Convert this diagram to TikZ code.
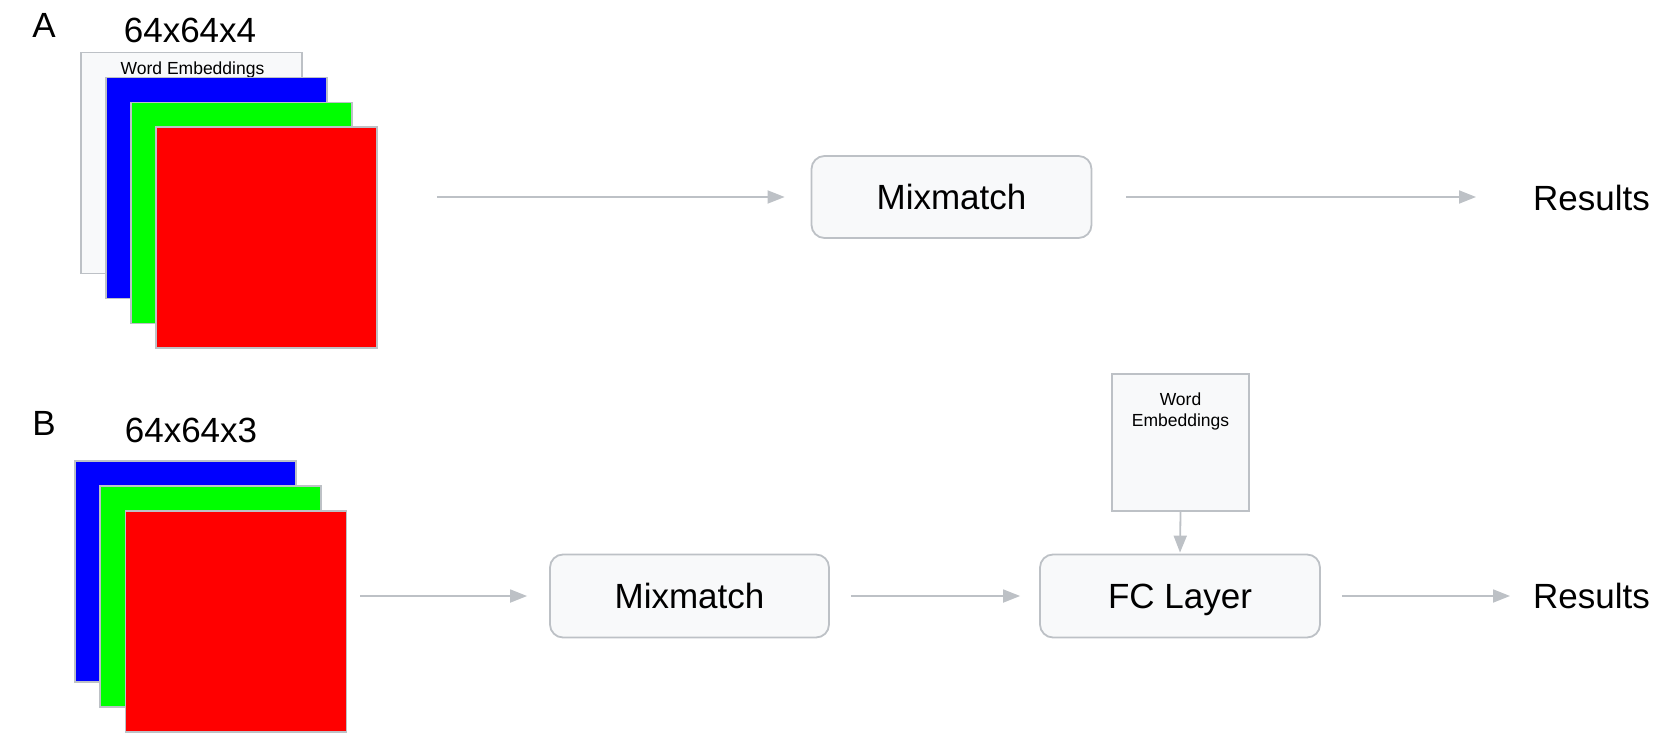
\documentclass[tikz,border=0pt]{standalone}
\usepackage{fontspec}
\setmainfont{Liberation Sans}
\usetikzlibrary{arrows.meta}
\definecolor{linegray}{HTML}{BDC1C6}
\definecolor{boxfill}{HTML}{F8F9FA}
\definecolor{chblue}{HTML}{0000FF}
\definecolor{chgreen}{HTML}{00FF00}
\definecolor{chred}{HTML}{FF0000}
\tikzset{
  big/.style={font=\fontsize{35}{42}\selectfont, inner sep=0pt},
  small/.style={font=\fontsize{17.5}{21}\selectfont, inner sep=0pt, align=center},
  chan/.style={draw=linegray, line width=1.8pt, minimum width=221pt, minimum height=221pt, inner sep=0pt},
  procbox/.style={draw=linegray, fill=boxfill, line width=1.8pt, rounded corners=13pt, inner sep=0pt,
    text depth=0pt, font=\fontsize{35}{42}\selectfont},
  conn/.style={draw=linegray, line width=1.8pt, -{Triangle[length=17pt,width=13pt]}},
}
\begin{document}
\begin{tikzpicture}[x=1pt,y=-1pt]
\useasboundingbox (0,0) rectangle (1667,746);
% ---- row A ----
\node[big] (labA) at (44,25) {A};
\node[big] (dimA) at (190,30) {64x64x4};
\node[chan, fill=boxfill] (weA) at (191.5,163) {};
\node[small] (weAtxt) at (192.5,70) {Word Embeddings};
\node[chan, fill=chblue] (blueA) at (216.5,188) {};
\node[chan, fill=chgreen] (greenA) at (241.5,213) {};
\node[chan, fill=chred] (redA) at (266.5,237.5) {};
\node[procbox, minimum width=280pt, minimum height=82pt] (mixA) at (951.5,197) {Mixmatch};
\node[big, anchor=west] (resA) at (1533,198) {Results};
\draw[conn, shorten <=59pt, shorten >=26pt] (redA.east |- mixA.west) -- (mixA.west);
\draw[conn, shorten <=34pt, shorten >=57pt] (mixA.east) -- (resA.west |- mixA.east);
% ---- row B ----
\node[big] (labB) at (44,423) {B};
\node[big] (dimB) at (191,430) {64x64x3};
\node[chan, fill=chblue] (blueB) at (185.5,571.5) {};
\node[chan, fill=chgreen] (greenB) at (210.5,596.5) {};
\node[chan, fill=chred] (redB) at (236,621.5) {};
\node[procbox, minimum width=279pt, minimum height=83pt] (mixB) at (689.5,596) {Mixmatch};
\node[procbox, minimum width=280pt, minimum height=83pt] (fcB) at (1180,596) {FC Layer};
\node[chan, fill=boxfill, minimum width=137pt, minimum height=137pt] (weB) at (1180.5,442.5) {};
\node[small] (weBtxt) at (1180.5,411) {Word\\Embeddings};
\node[big, anchor=west] (resB) at (1533,596) {Results};
\draw[conn, shorten <=13pt, shorten >=22pt] (redB.east |- mixB.west) -- (mixB.west);
\draw[conn, shorten <=21pt, shorten >=19pt] (mixB.east) -- (fcB.west);
\draw[conn, shorten <=21pt, shorten >=23pt] (fcB.east) -- (resB.west |- fcB.east);
\draw[conn, shorten >=1pt] (weB.south) -- (fcB.north);
\end{tikzpicture}
\end{document}
